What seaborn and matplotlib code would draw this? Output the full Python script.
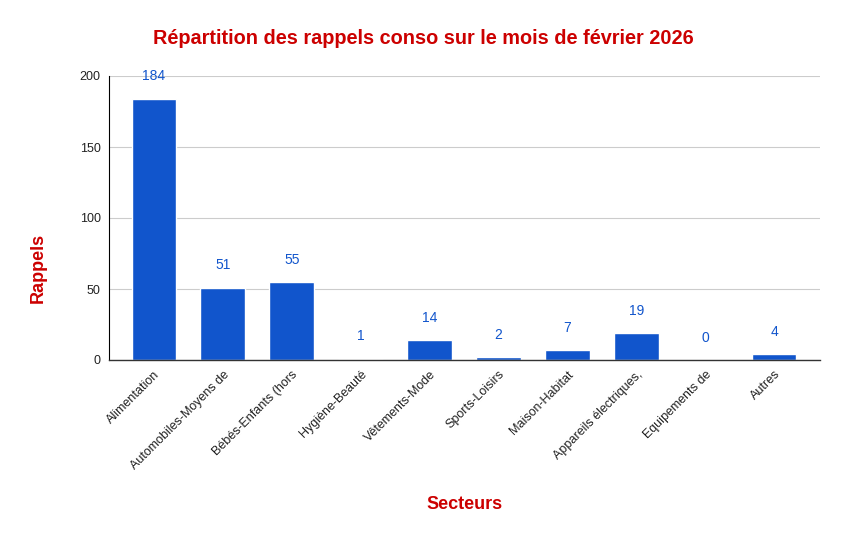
import matplotlib
matplotlib.use("Agg")
import matplotlib.pyplot as plt
import seaborn as sns
import pandas as pd

categories = ["Alimentation", "Automobiles-Moyens de", "Bébés-Enfants (hors", "Hygiène-Beauté",
              "Vêtements-Mode", "Sports-Loisirs", "Maison-Habitat", "Appareils électriques,",
              "Equipements de", "Autres"]
values = [184, 51, 55, 1, 14, 2, 7, 19, 0, 4]

sns.set_theme(style="white")
plt.rcParams['font.family'] = ['Liberation Sans', 'DejaVu Sans']

df = pd.DataFrame({"Secteurs": categories, "Rappels": values})

fig = plt.figure(figsize=(8.47, 5.41), dpi=100)
ax = fig.add_axes([109/847, 1-360/541, (820-109)/847, (360-76)/541])
blue = "#1155cc"
sns.barplot(data=df, x="Secteurs", y="Rappels", color=blue, width=0.65, ax=ax, saturation=1)

ax.set_xlim(-0.653, 9.667)
ax.set_ylim(0, 200)
ax.set_yticks([0, 50, 100, 150, 200])
ax.yaxis.grid(True, color="#cccccc", linewidth=0.8)
ax.set_axisbelow(True)
for s in ["top", "right"]:
    ax.spines[s].set_visible(False)
ax.spines["left"].set_color("black")
ax.spines["left"].set_linewidth(0.8)
ax.spines["bottom"].set_color("#333333")
ax.spines["bottom"].set_linewidth(1.0)
ax.tick_params(axis="both", length=0, labelsize=9, colors="#222222", pad=6)
plt.setp(ax.get_xticklabels(), rotation=45, ha="right", rotation_mode="anchor")

for i, v in enumerate(values):
    ax.annotate(str(v), (i, v), xytext=(0, 16), textcoords="offset points",
                ha="center", va="center", color=blue, fontsize=10)

ax.set_xlabel("Secteurs", color="#cc0000", fontsize=13, fontweight="bold", labelpad=0)
ax.xaxis.set_label_coords(0.5, -(496-360)/284)
ax.set_ylabel("")
fig.text(38/847, 1-268/541, "Rappels", rotation=90, ha="center", va="center",
         color="#cc0000", fontsize=13, fontweight="bold")
fig.text(0.5, 1-39/541, "Répartition des rappels conso sur le mois de février 2026",
         ha="center", va="center", color="#cc0000", fontsize=14.3, fontweight="bold")

fig.savefig("out.png", dpi=100, facecolor="white")
